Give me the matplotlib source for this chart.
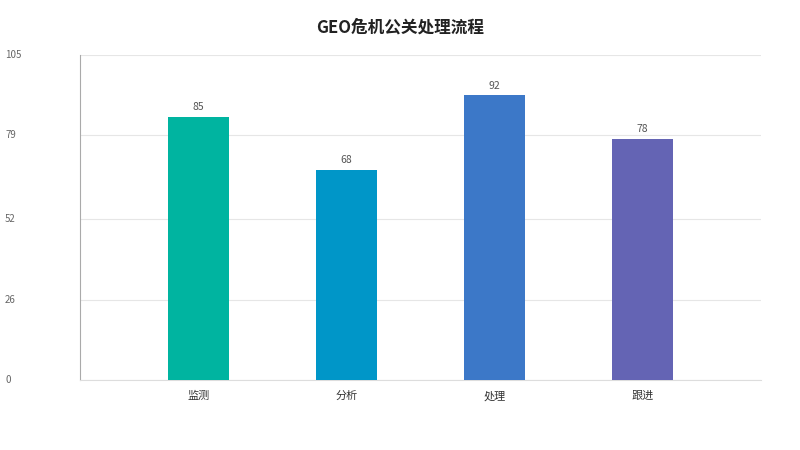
import matplotlib
matplotlib.use("Agg")
import matplotlib.pyplot as plt
from matplotlib.transforms import blended_transform_factory

plt.rcParams['font.family'] = ['Noto Sans CJK SC', 'DejaVu Sans']

categories = ['监测', '分析', '处理', '跟进']
values = [85, 68, 92, 78]
colors = ['#00B4A0', '#0096C8', '#3C78C8', '#6464B4']
yticks = [0, 26, 52, 79, 105]
title = 'GEO危机公关处理流程'

fig = plt.figure(figsize=(8, 4.5), dpi=100)
ax = fig.add_axes([80/800, 1-380/450, (761-80)/800, (380-55)/450])
x = range(len(categories))
bars = ax.bar(x, values, width=0.41, color=colors, zorder=3)
for xi, v in zip(x, values):
    ax.text(xi, v + 1.5, str(v), ha='center', va='bottom', fontsize=7.5, color='#555555')
ax.set_xlim(-0.8, 3.8)
ax.set_ylim(0, 105)
ax.set_yticks(yticks)
ax.set_yticklabels([])
ax.tick_params(axis='y', length=0)
ax.grid(axis='y', color='#e6e6e6', linewidth=0.8, zorder=0)
tr = blended_transform_factory(fig.transFigure, ax.transData)
for t in yticks:
    ax.text(5/800, t, str(t), transform=tr, ha='left', va='center', fontsize=7, color='#666666')
ax.set_xticks(list(x))
ax.set_xticklabels(categories, fontsize=8, color='#333333')
ax.tick_params(axis='x', length=0, pad=8)
for s in ['top', 'right']:
    ax.spines[s].set_visible(False)
ax.spines['left'].set_color('#aaaaaa')
ax.spines['bottom'].set_color('#dddddd')
fig.text(0.5, 1-27/450, title, ha='center', va='center', fontsize=12, fontweight='bold', color='#222222')
fig.savefig('out.png', dpi=100)
